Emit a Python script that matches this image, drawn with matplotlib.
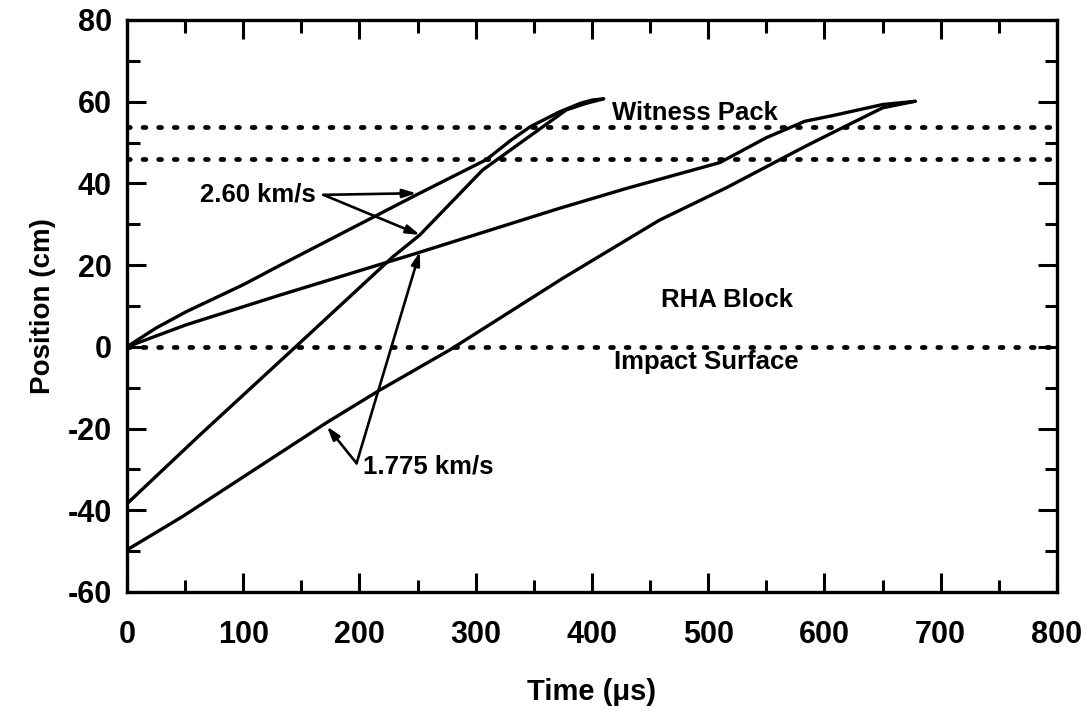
import matplotlib
matplotlib.use('Agg')
import matplotlib.pyplot as plt
from matplotlib.ticker import MultipleLocator

plt.rcParams['font.family'] = ['Liberation Sans', 'DejaVu Sans']
plt.rcParams['font.weight'] = 'bold'
plt.rcParams['axes.unicode_minus'] = False

# projectile / witness pack tracks, time in us, position in cm
t_fast_upper = [0, 25, 51, 100, 132, 249, 309, 330, 347, 372, 390, 400, 410]
x_fast_upper = [0, 4.6, 8.6, 15.2, 20.0, 37.2, 45.8, 50.5, 53.9, 57.5, 59.6, 60.4, 60.7]

t_fast_lower = [0, 63, 142, 229, 252, 306, 378, 395, 410]
x_fast_lower = [-38.4, -21.5, -0.8, 22.1, 27.4, 43.3, 58.0, 59.6, 60.7]

t_slow_upper = [0, 51, 132, 249, 372, 430, 510, 550, 583, 607, 650, 678]
x_slow_upper = [0, 5.4, 12.7, 22.9, 33.9, 38.8, 45.1, 51.2, 55.2, 56.6, 59.3, 60.1]

t_slow_lower = [0, 48, 172, 218, 278, 375, 458, 516, 583, 616, 650, 678]
x_slow_lower = [-49.7, -41.5, -18.5, -10.5, -0.7, 16.8, 31.0, 39.0, 49.0, 53.7, 58.5, 60.1]

# boundaries
witness_front = 46.0
witness_back = 53.7
impact_surface = 0.0

fig = plt.figure(figsize=(10.87, 7.11), dpi=100)
ax = fig.add_axes([0.1168, 0.1674, 0.8556, 0.8045])

for t, x in [(t_fast_upper, x_fast_upper), (t_fast_lower, x_fast_lower),
             (t_slow_upper, x_slow_upper), (t_slow_lower, x_slow_lower)]:
    ax.plot(t, x, color='black', linewidth=2.4, solid_capstyle='round',
            solid_joinstyle='round')

for y in (witness_front, witness_back, impact_surface):
    ax.axhline(y, color='black', linewidth=3.4, linestyle=(0, (0.6, 2.7)),
               dash_capstyle='round')

ax.set_xlim(0, 800)
ax.set_ylim(-60, 80)
ax.xaxis.set_major_locator(MultipleLocator(100))
ax.xaxis.set_minor_locator(MultipleLocator(50))
ax.yaxis.set_major_locator(MultipleLocator(20))
ax.yaxis.set_minor_locator(MultipleLocator(10))
ax.tick_params(which='both', direction='in', top=True, right=True,
               width=2.2, labelsize=22, color='black')
ax.tick_params(which='major', length=14)
ax.tick_params(which='minor', length=9)
ax.tick_params(axis='x', pad=20)
ax.tick_params(axis='y', pad=11)
for s in ax.spines.values():
    s.set_linewidth(2.4)

ax.set_xlabel('Time (μs)', fontsize=21, fontweight='bold', labelpad=20)
ax.set_ylabel('Position (cm)', fontsize=20, fontweight='bold', labelpad=8)

# region labels
ax.text(417, 57.3, 'Witness Pack', fontsize=18.5, fontweight='bold', va='center')
ax.text(516, 11.5, 'RHA Block', fontsize=18.5, fontweight='bold',
        ha='center', va='center')
ax.text(498, -3.8, 'Impact Surface', fontsize=18.5, fontweight='bold',
        ha='center', va='center')

arrow = dict(arrowstyle='-|>,head_length=0.8,head_width=0.25', color='black',
             lw=1.9, shrinkA=0, shrinkB=0)

# 2.60 km/s arrows
ax.text(63, 37.2, '2.60 km/s', fontsize=18.5, fontweight='bold', va='center')
ax.annotate('', xy=(249, 37.6), xytext=(169, 37.2), arrowprops=arrow)
ax.annotate('', xy=(252, 27.4), xytext=(169, 37.2), arrowprops=arrow)

# 1.775 km/s arrows
ax.text(203, -29.4, '1.775 km/s', fontsize=18.5, fontweight='bold', va='center')
ax.annotate('', xy=(172, -19.5), xytext=(197.5, -28.5), arrowprops=arrow)
ax.annotate('', xy=(252, 23.3), xytext=(197.5, -28.5), arrowprops=arrow)

fig.savefig('out.png', dpi=100)
